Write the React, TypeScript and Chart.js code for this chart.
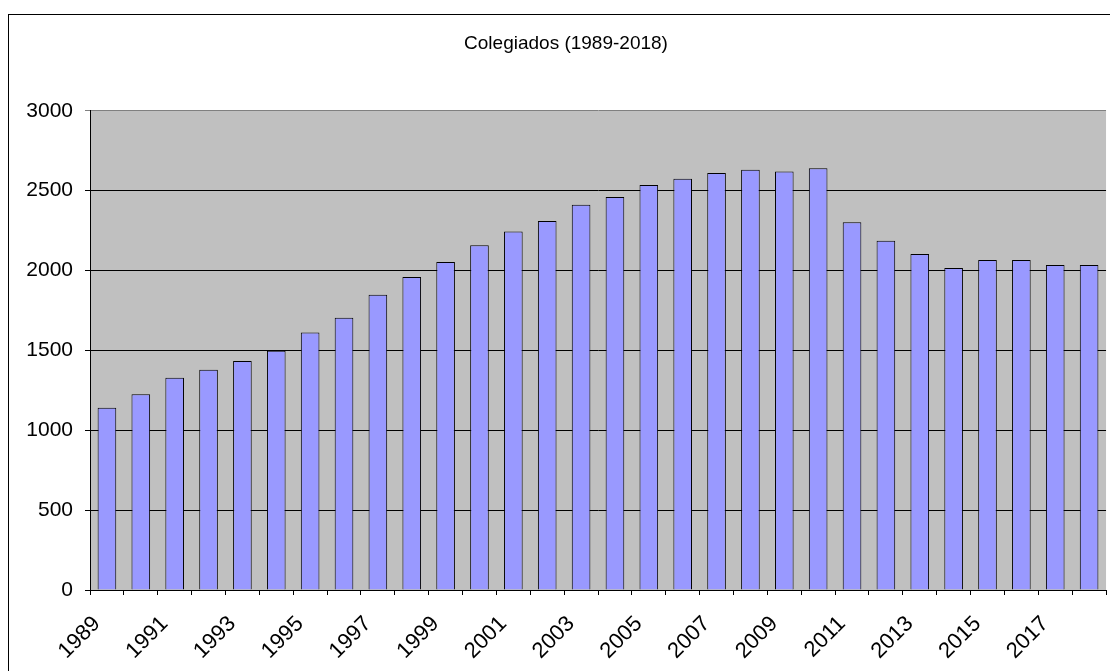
import React, { useEffect, useRef } from 'react';
import { Chart, registerables } from 'chart.js';

Chart.register(...registerables);

const chartTitle = 'Colegiados (1989-2018)';

const years = [
  '1989', '1990', '1991', '1992', '1993', '1994', '1995', '1996', '1997', '1998',
  '1999', '2000', '2001', '2002', '2003', '2004', '2005', '2006', '2007', '2008',
  '2009', '2010', '2011', '2012', '2013', '2014', '2015', '2016', '2017', '2018',
];

const colegiados = [
  1141, 1225, 1329, 1379, 1433, 1498, 1612, 1704, 1848, 1960,
  2054, 2158, 2244, 2310, 2412, 2460, 2535, 2575, 2610, 2631,
  2620, 2641, 2302, 2187, 2104, 2016, 2066, 2066, 2035, 2035,
];

const yMin = 0;
const yMax = 3000;
const yStep = 500;

const FONT = "'Liberation Sans', Arial, sans-serif";

const backgroundPlugin = {
  id: 'bgFrame',
  beforeDraw(chart: any) {
    const { ctx, chartArea } = chart;
    const { left, top, right, bottom } = chartArea;
    ctx.save();
    ctx.fillStyle = '#ffffff';
    ctx.fillRect(0, 0, chart.width, chart.height);
    ctx.strokeStyle = '#000000';
    ctx.lineWidth = 1;
    ctx.strokeRect(8.5, 14.5, chart.width + 100, chart.height + 100);
    ctx.fillStyle = '#C0C0C0';
    ctx.fillRect(left, top, right - left, bottom - top);
    ctx.restore();
  },
};

export default function App() {
  const canvasRef = useRef<HTMLCanvasElement>(null);

  useEffect(() => {
    const canvas = canvasRef.current;
    if (!canvas) return;
    const chart = new Chart(canvas, {
      type: 'bar',
      data: {
        labels: years,
        datasets: [
          {
            label: 'Colegiados',
            data: colegiados,
            backgroundColor: '#9999FF',
            borderColor: '#000000',
            borderWidth: 1,
            categoryPercentage: 1.0,
            barPercentage: 0.55,
          },
        ],
      },
      options: {
        responsive: false,
        animation: false,
        devicePixelRatio: 1,
        layout: { padding: { left: 22, right: 14, top: 14, bottom: 0 } },
        plugins: {
          legend: { display: false },
          tooltip: { enabled: false },
          title: {
            display: true,
            text: chartTitle,
            color: '#000000',
            font: { family: FONT, size: 19, weight: 'normal', lineHeight: 1.2 },
            padding: { top: 18, bottom: 56 },
          },
        },
        scales: {
          x: {
            grid: {
              offset: true,
              drawOnChartArea: false,
              drawTicks: true,
              tickLength: 5,
              color: '#000000',
            },
            border: { display: true, color: '#000000', width: 1 },
            ticks: {
              autoSkip: false,
              maxRotation: 45,
              minRotation: 45,
              padding: 16,
              labelOffset: -10,
              color: '#000000',
              font: { family: FONT, size: 22 },
              callback: (_v: any, i: number) => (i % 2 === 0 ? years[i] : ''),
            },
            afterFit: (s: any) => {
              s.height = 100;
            },
          },
          y: {
            min: yMin,
            max: yMax,
            ticks: {
              stepSize: yStep,
              padding: 12,
              color: '#000000',
              font: { family: FONT, size: 21 },
              callback: (v: any) => String(v),
            },
            grid: {
              color: (ctx: any) => (ctx.tick && ctx.tick.value === yMax ? '#808080' : '#000000'),
              tickLength: 5,
              drawTicks: true,
            },
            border: { display: true, color: '#000000', width: 1 },
            afterFit: (s: any) => {
              s.width = 68;
            },
          },
        },
      },
      plugins: [backgroundPlugin],
    });
    return () => chart.destroy();
  }, []);

  return (
    <div
      style={{
        position: 'fixed',
        left: 0,
        top: 0,
        width: 1110,
        height: 671,
        overflow: 'hidden',
        background: '#ffffff',
      }}
    >
      <canvas
        ref={canvasRef}
        width={1124}
        height={690}
        style={{ display: 'block', width: 1124, height: 690 }}
      />
    </div>
  );
}
